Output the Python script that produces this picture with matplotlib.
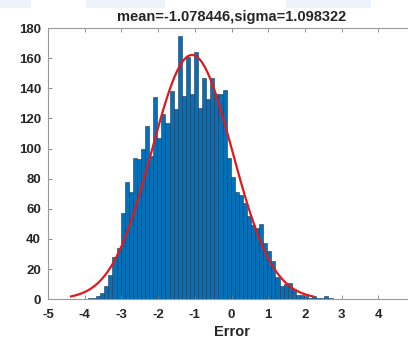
import numpy as np
import matplotlib
matplotlib.use("Agg")
import matplotlib.pyplot as plt
from matplotlib.patches import Rectangle

# Histogram of the error, 60 bins
bin_start = -3.91
bin_width = 0.111
counts = [1, 1, 2, 4, 9, 16, 28, 34, 57, 78,
          71, 94, 93, 100, 115, 95, 134, 107, 123, 117, 138, 126,
          175,
          135, 161, 136, 164, 127, 147, 133, 147, 136, 136, 139,
          94, 81, 71, 69, 64, 55, 49, 47, 50,
          37, 32, 25, 15, 9, 10, 11, 7, 3, 3, 2, 1, 2, 1, 1, 2, 1]

# Gaussian fit shown in the title
mu = -1.078446
sigma = 1.098322

xticks = [-5, -4, -3, -2, -1, 0, 1, 2, 3, 4]
yticks = [0, 20, 40, 60, 80, 100, 120, 140, 160, 180]

plt.rcParams['font.family'] = ['Liberation Sans', 'DejaVu Sans']
plt.rcParams['font.weight'] = 'bold'

fig = plt.figure(figsize=(4.08, 3.38), dpi=100)

# faint bluish bands along the top of the screenshot
for x0, w in [(0.0, 0.075), (0.21, 0.195), (0.70, 0.21)]:
    fig.patches.append(Rectangle((x0, 0.975), w, 0.025, transform=fig.transFigure,
                                 facecolor='#eef3fb', edgecolor='none'))

ax = fig.add_axes([0.1176, 0.115, 0.9, 0.802])

edges = bin_start + bin_width * np.arange(len(counts) + 1)
ax.hist(edges[:-1], bins=edges, weights=counts, color='#0570b8',
        edgecolor='#1c3654', linewidth=0.4)

# fitted normal curve over mean +/- 3 sigma
n = sum(counts)
xs = np.linspace(mu - 3 * sigma, mu + 3 * sigma, 200)
ys = n * bin_width / (sigma * np.sqrt(2 * np.pi)) * np.exp(-0.5 * ((xs - mu) / sigma) ** 2)
ax.plot(xs, ys, color='#e0191c', linewidth=1.6)

ax.set_xlim(-5, 5)
ax.set_ylim(0, 180)
ax.set_xticks(xticks)
ax.set_yticks(yticks)
ax.set_xticklabels([str(t) for t in xticks])
ax.tick_params(direction='in', length=3, width=0.6, color='#777777',
               labelsize=9.5, top=True, right=True)
ax.tick_params(axis='x', pad=7)
ax.tick_params(axis='y', pad=5)
for lab in ax.get_xticklabels() + ax.get_yticklabels():
    lab.set_fontweight('bold')
    lab.set_color('#262626')
for s in ax.spines.values():
    s.set_color('#999999')
    s.set_linewidth(0.8)

ax.set_xlabel('Error', fontsize=10.5, fontweight='bold', color='#262626', labelpad=3)
ax.set_title('mean=-1.078446,sigma=1.098322', fontsize=10.5, fontweight='bold',
             color='#262626', pad=5)

fig.savefig('out.png', dpi=100)
